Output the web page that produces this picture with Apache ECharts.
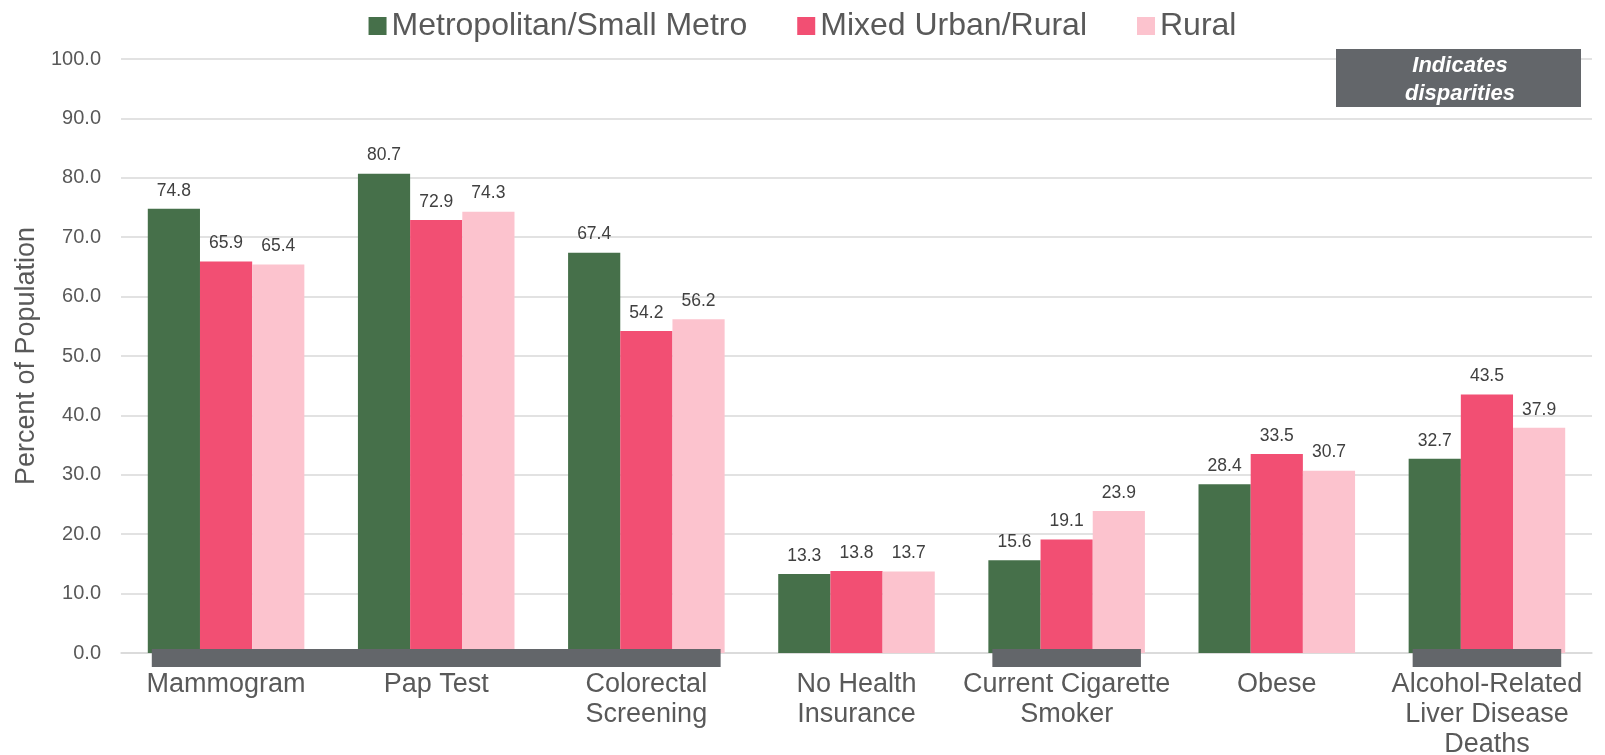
<!DOCTYPE html>
<html>
<head>
<meta charset="utf-8">
<script src="https://cdn.jsdelivr.net/npm/echarts@6/dist/echarts.min.js"></script>
<style>
  html, body { margin: 0; padding: 0; background: #fff }
  #chart { width: 1605px; height: 755px }
</style>
</head>
<body>
<div id="chart"></div>
<script>
const categories = ['Mammogram', 'Pap Test', 'Colorectal\nScreening', 'No Health\nInsurance',
  'Current Cigarette\nSmoker', 'Obese', 'Alcohol-Related\nLiver Disease\nDeaths']
const seriesNames = ['Metropolitan/Small Metro', 'Mixed Urban/Rural', 'Rural']
const metroValues = [74.8, 80.7, 67.4, 13.3, 15.6, 28.4, 32.7]
const mixedValues = [65.9, 72.9, 54.2, 13.8, 19.1, 33.5, 43.5]
const ruralValues = [65.4, 74.3, 56.2, 13.7, 23.9, 30.7, 37.9]
// category index ranges flagged as disparities
const disparityRanges = [[0, 2], [4, 4], [6, 6]]

const colors = ['#46704A', '#F24F73', '#FCC3CE']
const gapRatio = 0.255

const chart = echarts.init(document.getElementById('chart'))

function barSeries(name, data, color) {
  return {
    name,
    type: 'bar',
    data,
    barGap: '0%',
    barCategoryGap: (gapRatio * 100) + '%',
    itemStyle: { color },
    label: {
      show: true,
      position: 'top',
      distance: 9,
      formatter: p => p.value.toFixed(1),
      fontFamily: 'Liberation Sans',
      fontSize: 17.5,
      color: '#404040'
    }
  }
}

function renderDisparity(params, api) {
  const start = api.coord([api.value(0), 0])
  const end = api.coord([api.value(1), 0])
  const band = api.size([1, 0])[0]
  const half = band * (1 - gapRatio) / 2
  const x0 = start[0] - half + 4
  const x1 = end[0] + half - 4
  return {
    type: 'rect',
    shape: { x: x0, y: start[1] - 4, width: x1 - x0, height: 18 },
    style: { fill: '#63666A' }
  }
}

chart.setOption({
  animation: false,
  textStyle: { fontFamily: 'Liberation Sans' },
  legend: {
    data: seriesNames,
    top: 5,
    left: 'center',
    itemWidth: 18,
    itemHeight: 18,
    itemGap: 50,
    icon: 'rect',
    textStyle: { fontSize: 32, color: '#595959', fontFamily: 'Liberation Sans' }
  },
  grid: { left: 121, right: 13, top: 59, bottom: 102, outerBoundsMode: 'none', containLabel: false },
  xAxis: {
    type: 'category',
    data: categories,
    axisLine: { lineStyle: { color: '#D9D9D9', width: 1.5 } },
    axisTick: { show: false },
    axisLabel: {
      interval: 0,
      margin: 17,
      fontSize: 27,
      lineHeight: 30,
      color: '#595959',
      fontFamily: 'Liberation Sans'
    }
  },
  yAxis: {
    type: 'value',
    min: 0,
    max: 100,
    interval: 10,
    name: 'Percent of Population',
    nameLocation: 'middle',
    nameGap: 80,
    nameTextStyle: { fontSize: 27, color: '#595959', fontFamily: 'Liberation Sans' },
    axisLine: { show: false },
    axisTick: { show: false },
    axisLabel: {
      margin: 20,
      fontSize: 20,
      color: '#595959',
      formatter: v => v.toFixed(1),
      fontFamily: 'Liberation Sans'
    },
    splitLine: { lineStyle: { color: '#D9D9D9', width: 1.5 } }
  },
  series: [
    barSeries(seriesNames[0], metroValues, colors[0]),
    barSeries(seriesNames[1], mixedValues, colors[1]),
    barSeries(seriesNames[2], ruralValues, colors[2]),
    {
      type: 'custom',
      name: 'disparity',
      data: disparityRanges,
      encode: { x: [0, 1] },
      renderItem: renderDisparity,
      clip: false,
      z: 5,
      silent: true
    }
  ],
  graphic: [{
    type: 'group',
    left: 1336,
    top: 49,
    z: 100,
    children: [
      { type: 'rect', z: 100, shape: { x: 0, y: 0, width: 245, height: 58 }, style: { fill: '#63666A' } },
      {
        type: 'text',
        z: 101,
        x: 124,
        y: 31,
        style: {
          text: 'Indicates\ndisparities',
          fill: '#fff',
          font: 'italic bold 22px "Liberation Sans"',
          lineHeight: 28,
          align: 'center',
          verticalAlign: 'middle'
        }
      }
    ]
  }]
})

window.addEventListener('resize', () => chart.resize())
</script>
</body>
</html>
